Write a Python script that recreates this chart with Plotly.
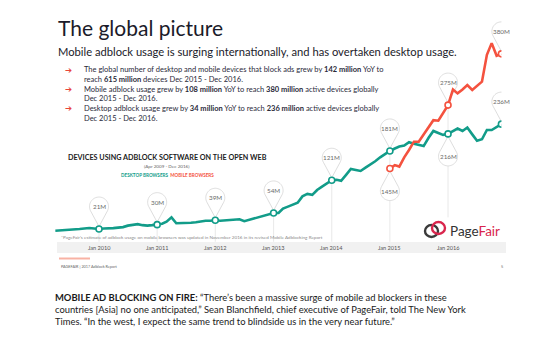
import numpy as np
import pandas as pd
import plotly.graph_objects as go

W, H = 548, 350

# ---------------- data ----------------
desktop_months = pd.date_range("2009-04-01", "2016-12-01", freq="MS")
desktop_values = (
    [17.6, 18, 18.5, 19, 20, 21, 22, 23, 22]                      # 2009 Apr-Dec
    + [21, 22, 22, 23, 24, 25, 28, 29, 31, 29, 28, 29]             # 2010
    + [30, 32, 36, 45, 33, 33, 33, 34, 35, 37, 38, 38]             # 2011
    + [39, 38, 39, 39, 40, 41, 37, 40, 43, 45, 48, 51]             # 2012
    + [54, 54, 63, 67, 71, 75, 88, 93, 91, 101, 108, 115]          # 2013
    + [121, 122, 120, 132, 144, 142, 140, 147, 153, 160, 168, 175] # 2014
    + [181, 186, 190, 192, 199, 196, 193, 191, 208, 222, 218, 214] # 2015
    + [216, 221, 227, 222, 229, 215, 202, 205, 224, 224, 230, 236] # 2016
)
mobile_months = pd.date_range("2015-01-01", "2016-12-01", freq="MS")
mobile_values = (
    [145, 152, 149, 168, 183, 200, 200, 214, 230, 244, 243, 258]   # 2015
    + [275, 307, 299, 307, 316, 306, 314, 323, 378, 402, 376, 380] # 2016
)

tick_dates = ["2010-01-01", "2011-01-01", "2012-01-01", "2013-01-01",
              "2014-01-01", "2015-01-01", "2016-01-01"]
tick_labels = ["Jan 2010", "Jan 2011", "Jan 2012", "Jan 2013",
               "Jan 2014", "Jan 2015", "Jan 2016"]

desktop_callout_dates = ["2010-01-01", "2011-01-01", "2012-01-01", "2013-01-01",
                         "2014-01-01", "2015-01-01", "2016-01-01", "2016-12-01"]
desktop_callout_labels = ["21M", "30M", "39M", "54M", "121M", "181M", "216M", "236M"]
desktop_callout_side = ["up", "up", "up", "up", "up", "up", "down", "up"]

mobile_callout_dates = ["2015-01-01", "2016-01-01", "2016-12-01"]
mobile_callout_labels = ["145M", "275M", "380M"]
mobile_callout_side = ["down", "up", "up"]

TEAL = "#129c89"
RED = "#f4523f"
PIN_LINE = "#d4d4d4"

desk = pd.Series(desktop_values, index=desktop_months)
mob = pd.Series(mobile_values, index=mobile_months)


def px(x):
    return x / W


def py(y):
    return 1 - y / H


fig = go.Figure()

fig.add_trace(go.Scatter(x=desktop_months, y=desktop_values, mode="lines",
                         line=dict(color=TEAL, width=2.6), hoverinfo="skip",
                         showlegend=False))
fig.add_trace(go.Scatter(x=mobile_months, y=mobile_values, mode="lines",
                         line=dict(color=RED, width=2.6), hoverinfo="skip",
                         showlegend=False))

dd = pd.to_datetime(desktop_callout_dates)
md = pd.to_datetime(mobile_callout_dates)
fig.add_trace(go.Scatter(x=dd, y=desk.loc[dd].values, mode="markers",
                         marker=dict(symbol="circle", size=6, color="white",
                                     line=dict(color=TEAL, width=1.6)),
                         hoverinfo="skip", showlegend=False))
fig.add_trace(go.Scatter(x=md, y=mob.loc[md].values, mode="markers",
                         marker=dict(symbol="circle", size=6, color="white",
                                     line=dict(color=RED, width=1.6)),
                         hoverinfo="skip", showlegend=False))

shapes = []
annotations = []

# vertical guide lines
for d in pd.to_datetime(tick_dates):
    top = max(desk.get(d, 0), mob.get(d, 0))
    bottom = 45 if d.year == 2016 else -5
    shapes.append(dict(type="line", xref="x", yref="y", x0=d, x1=d, y0=bottom, y1=top,
                       line=dict(color="#e2e2e2", width=0.8), layer="below"))

# pins
R = 9.5
D = 22.5


def pin_path(side):
    sgn = 1 if side == "up" else -1
    cy = sgn * D
    tip = sgn * 2.5
    alpha = np.arccos(R / (D - 2.5))
    base = -np.pi / 2 if side == "up" else np.pi / 2
    angs = np.linspace(base + alpha, base + 2 * np.pi - alpha, 48)
    pts = ["M 0,%.2f" % tip]
    for a in angs:
        pts.append("L %.2f,%.2f" % (R * np.cos(a), cy + R * np.sin(a)))
    pts.append("Z")
    return " ".join(pts)


def add_pin(d, v, label, side):
    shapes.append(dict(type="path", xref="x", yref="y", xsizemode="pixel",
                       ysizemode="pixel", xanchor=d, yanchor=v, path=pin_path(side),
                       line=dict(color=PIN_LINE, width=0.8), fillcolor="white",
                       layer="below"))
    annotations.append(dict(x=d, y=v, xref="x", yref="y", text=label, showarrow=False,
                            yshift=D if side == "up" else -D,
                            font=dict(family="Lato", size=6.3, color="#6a6a6a"),
                            xanchor="center", yanchor="middle"))


for d, lab, s in zip(dd, desktop_callout_labels, desktop_callout_side):
    add_pin(d, float(desk.loc[d]), lab, s)
for d, lab, s in zip(md, mobile_callout_labels, mobile_callout_side):
    add_pin(d, float(mob.loc[d]), lab, s)

# axis band
shapes.append(dict(type="rect", xref="paper", yref="paper", x0=px(57), x1=px(506),
                   y0=py(253), y1=py(242), fillcolor="#f1f1f1", line=dict(width=0),
                   layer="below"))
# tick labels
for d, lab in zip(tick_dates, tick_labels):
    annotations.append(dict(x=d, y=py(247.5), xref="x", yref="paper", text=lab,
                            showarrow=False, font=dict(family="Lato", size=5.6,
                                                       color="#555555"),
                            xanchor="center", yanchor="middle"))

# salmon rule + footer
shapes.append(dict(type="line", xref="paper", yref="paper", x0=px(59), x1=px(90),
                   y0=py(258.5), y1=py(258.5), line=dict(color="#f8b2a4", width=2)))

# PageFair logo rings
shapes.append(dict(type="circle", xref="paper", yref="paper", x0=px(425), x1=px(438),
                   y0=py(237), y1=py(225), line=dict(color="#3a3a3a", width=2.4)))
shapes.append(dict(type="circle", xref="paper", yref="paper", x0=px(432), x1=px(445),
                   y0=py(234), y1=py(222), line=dict(color="#d9264d", width=2.4)))


def txt(x, y, text, size, color="#222222", family="Lato", xanchor="left", align="left"):
    annotations.append(dict(x=px(x), y=py(y), xref="paper", yref="paper", text=text,
                            showarrow=False, font=dict(family=family, size=size,
                                                       color=color),
                            xanchor=xanchor, yanchor="middle", align=align))


txt(56, 27, "The global picture", 21, "#1b1b2a")
txt(56, 51.5, "Mobile adblock usage is surging internationally, and has overtaken desktop usage.",
    11.2, "#1b1b2a")

bullets = ("The global number of desktop and mobile devices that block ads grew by <b>142 million</b> YoY to<br>"
           "reach <b>615 million</b> devices Dec 2015 - Dec 2016.<br>"
           "Mobile adblock usage grew by <b>108 million</b> YoY to reach <b>380 million</b> active devices globally<br>"
           "Dec 2015 - Dec 2016.<br>"
           "Desktop adblock usage grew by <b>34 million</b> YoY to reach <b>236 million</b> active devices globally<br>"
           "Dec 2015 - Dec 2016.")
txt(82, 94, bullets, 7.5, "#2a2a3a")
for yy in (70, 89.2, 108.4):
    txt(63, yy, "➔", 8.5, "#e8453a", family="DejaVu Sans")

txt(167, 157, "<b>DEVICES USING ADBLOCK SOFTWARE ON THE OPEN WEB</b>", 7.2, "#222222",
    xanchor="center", align="center")
txt(167, 166, "(Apr 2009 - Dec 2016)", 4.6, "#666666", xanchor="center", align="center")
txt(167, 174.5, "<b><span style='color:%s'>DESKTOP BROWSERS</span>&nbsp;&nbsp;"
    "<span style='color:%s'>MOBILE BROWSERS</span></b>" % (TEAL, RED), 4.6,
    xanchor="center", align="center")

txt(59, 237, "*PageFair's estimate of adblock usage on mobile browsers was updated in "
    "November 2016 in its revised Mobile Adblocking Report", 4.6, "#8a8a8a")

txt(59, 266, "PAGEFAIR | 2017 Adblock Report", 3.8, "#666666")
txt(505, 266, "5", 3.8, "#666666", xanchor="right")

txt(448, 230.5, "<span style='color:#333333'>Page</span><span style='color:#d9264d'>Fair</span>",
    13.5, family="Lato")

quote = ("<b>MOBILE AD BLOCKING ON FIRE:</b> “There’s been a massive surge of mobile ad blockers in these<br>"
         "countries [Asia] no one anticipated,” Sean Blanchfield, chief executive of PageFair, told The New York<br>"
         "Times. “In the west, I expect the same trend to blindside us in the very near future.”")
txt(53, 309, quote, 9.4, "#1a1a1a", family="Lato")

# ---------------- layout ----------------
x_start = pd.Timestamp("2009-04-01")
x_end = pd.Timestamp("2016-12-01")
y_lo, y_hi = -10, 470
fig.update_layout(
    width=W, height=H, autosize=False,
    margin=dict(l=0, r=0, t=0, b=0),
    paper_bgcolor="white", plot_bgcolor="rgba(0,0,0,0)",
    xaxis=dict(range=[x_start, x_end], domain=[55.2 / W, 501.4 / W], visible=False,
               fixedrange=True),
    yaxis=dict(range=[y_lo, y_hi], domain=[py(239.3 + 0.488 * 10), py(239.3 - 0.488 * 470)],
               visible=False, fixedrange=True),
    shapes=shapes,
    annotations=annotations,
    showlegend=False,
)

fig.write_html("out.html", config={"displayModeBar": False})
